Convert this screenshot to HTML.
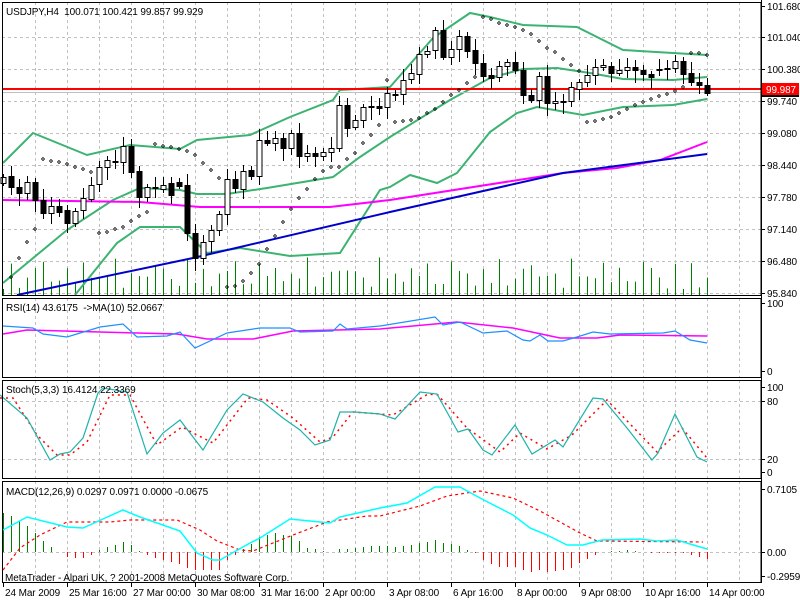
<!DOCTYPE html>
<html><head><meta charset="utf-8">
<style>
html,body{margin:0;padding:0;background:#fff;}
svg{display:block;font-family:"Liberation Sans",sans-serif;font-size:10px;letter-spacing:-0.1px;}
</style></head>
<body>
<svg id="c" width="800" height="600" xmlns="http://www.w3.org/2000/svg"></svg>
<script>
var S=document.getElementById('c');var h='';
function pl(pts,col,w,dash){h+='<polyline fill="none" stroke="'+col+'" stroke-width="'+w+'"'+(dash?' stroke-dasharray="'+dash+'"':'')+' points="'+pts.map(function(p){return p[0]+','+p[1]}).join(' ')+'"/>';}
function ln(x1,y1,x2,y2,col,w,dash){h+='<line x1="'+x1+'" y1="'+y1+'" x2="'+x2+'" y2="'+y2+'" stroke="'+col+'" stroke-width="'+(w||1)+'"'+(dash?' stroke-dasharray="'+dash+'"':'')+'/>';}
function tx(x,y,t,col,anchor){h+='<text x="'+x+'" y="'+y+'" fill="'+(col||'#000')+'"'+(anchor?' text-anchor="'+anchor+'"':'')+'>'+t+'</text>';}
var panels=[[2,295],[298,377],[380,478],[481,582]];
panels.forEach(function(p){for(var x=35;x<761;x+=32){ln(x+0.5,p[0],x+0.5,p[1],'#c0c0c0',1,'3,3');}});
for(var y=37;y<295;y+=32)ln(2,y+0.5,761,y+0.5,'#c0c0c0',1,'3,3');
ln(2,401.5,761,401.5,'#c0c0c0',1,'3,3');ln(2,459.5,761,459.5,'#c0c0c0',1,'3,3');
ln(2,552.5,761,552.5,'#c0c0c0',1,'3,3');
for(var k=0;k<89;k++){var x=3.5+8*k;var v=6+Math.abs(Math.sin(k*1.7)*22+Math.sin(k*0.37)*10);ln(x,295,x,295-v,'#008000',1);}
pl([[3,163],[33,133],[87,155],[130,145],[180,149],[197,140],[250,135],[290,117],[333,100],[340,90],[390,87],[433,38],[470,13],[490,17],[523,25],[577,27],[623,50],[673,53],[707,55]],'#3cb371',2);
pl([[3,283],[67,230],[113,200],[140,188],[180,190],[197,194],[227,194],[267,188],[333,177],[360,157],[390,137],[450,100],[490,78],[523,69],[557,68],[590,73],[623,79],[673,80],[707,77]],'#3cb371',2);
pl([[75,295],[117,243],[140,227],[180,227],[207,253],[240,248],[290,256],[340,253],[380,190],[390,187],[410,175],[437,183],[457,173],[490,132],[517,113],[537,107],[583,115],[623,107],[673,105],[707,99]],'#3cb371',2);
pl([[3,200],[140,202],[200,207],[330,207],[390,200],[563,173],[617,168],[660,160],[707,142]],'#ff00ff',2);
pl([[17,295],[193,258],[390,212],[563,173],[707,154]],'#0000cd',2);
ln(2,92.5,761,92.5,'#c0c0c0',1);
ln(2,89,761,89,'#ff0000',2);
var C=[[177,183,1],[176,187,0],[187,193,0],[182,193,1],[182,200,0],[200,213,0],[206,213,1],[206,212,0],[210,223,0],[211,223,1],[198,210,1],[185,199,1],[167,184,1],[160,167,1],[161,162,0],[146,162,1],[146,172,0],[171,197,0],[187,197,1],[187,188,0],[185,189,1],[183,195,0],[182,186,0],[185,233,0],[233,258,0],[242,258,1],[230,241,1],[214,230,1],[179,214,1],[179,188,0],[171,189,1],[170,176,0],[140,176,1],[140,143,0],[138,143,1],[138,148,0],[133,148,1],[133,156,0],[153,156,1],[153,156,0],[152,156,1],[148,152,1],[105,148,1],[105,128,0],[120,127,1],[107,120,1],[106,107,0],[106,108,0],[93,107,1],[94,95,0],
[80,94,1],[73,79,1],[54,74,1],[51,54,1],[30,50,1],[30,57,0],[49,57,1],[36,49,1],[36,51,0],[50,63,0],[63,76,0],[75,78,0],[66,77,1],[62,66,1],[62,70,0],[70,95,0],[95,100,0],[76,100,1],[76,103,0],[101,103,1],[101,102,0],[87,101,1],[82,89,1],[75,82,1],[67,75,1],[65,67,1],[66,73,0],[70,73,1],[67,70,1],[67,70,0],[70,74,0],[74,77,0],[69,70,0],[68,69,0],[61,68,1],[61,74,0],[73,82,0],[82,85,0],[85,93,0]];
C.forEach(function(c,k){var x=3.5+8*k;var w1=3+(k*7%9),w2=3+(k*5%11);ln(x,c[0]-w1,x,c[1]+w2,'#000',1);
var hh=Math.max(c[1]-c[0],1);h+='<rect x="'+(x-2.5)+'" y="'+c[0]+'.5" width="5" height="'+hh+'" fill="'+(c[2]?'#fff':'#000')+'" stroke="#000" stroke-width="1"/>';});
var D=[[11,277],[19,258],[27,242],[35,229],[43,159],[51,161],[59,162],[67,164],[75,167],[83,169],[91,172],[99,233],[107,232],[115,229],[123,227],[131,221],[139,216],[147,212],[155,144],[163,146],[171,147],[179,149],[187,151],[195,155],[203,163],[211,170],[219,178],[227,287],[235,286],[243,281],[251,273],[259,264],[267,249],[275,236],[283,222],[291,209],[299,198],[307,189],[315,179],[323,171],[331,167],[339,167],[347,159],[355,153],[363,143],[371,135],[379,125],[387,80],[395,122],[403,121],[411,120],[419,118],[427,113],[435,109],[443,102],[451,95],[459,90],[467,83],[475,77],[483,17],[491,19],[499,23],[507,25],[515,27],[523,30],[531,34],[539,41],[547,48],[555,52],[563,59],[571,65],[579,71],[587,122],[595,121],[603,119],[611,117],[619,113],[627,109],[635,105],[643,102],[651,99],[659,96],[667,94],[675,91],[683,87],[691,53],[699,53],[707,55]];
D.forEach(function(d){h+='<path d="M'+d[0]+' '+(d[1]-1.5)+'l1.5 1.5l-1.5 1.5l-1.5 -1.5z" fill="none" stroke="#000" stroke-width="0.8"/>';});
pl([[3,334],[27,330],[100,332],[177,334],[207,339],[253,339],[293,331],[380,329],[457,322],[513,328],[560,338],[597,338],[620,335],[707,336]],'#ff00ff',1.5);
pl([[3,326],[33,328],[43,334],[67,337],[100,327],[123,324],[137,337],[167,336],[180,332],[195,348],[227,333],[260,328],[290,328],[300,332],[333,331],[340,324],[347,329],[380,326],[435,317],[443,325],[460,322],[483,333],[507,331],[523,340],[530,341],[540,335],[548,341],[563,341],[577,337],[593,332],[610,334],[663,333],[675,331],[690,340],[707,343]],'#1e90ff',1.2);
pl([[0,398],[13,398],[37,435],[57,455],[70,455],[87,442],[110,395],[130,395],[157,445],[182,427],[197,435],[213,443],[248,398],[267,400],[293,418],[320,442],[333,437],[353,412],[393,415],[428,394],[438,395],[467,428],[500,452],[520,433],[547,449],[572,435],[607,400],[657,452],[682,428],[707,458]],'#ff0000',1.5,'2,4');
pl([[0,395],[27,418],[50,460],[60,454],[70,452],[83,438],[98,393],[103,388],[127,392],[147,454],[163,433],[180,420],[203,450],[227,410],[243,394],[263,402],[283,418],[300,430],[315,445],[330,440],[340,412],[355,412],[380,414],[395,419],[420,392],[437,394],[458,432],[468,429],[483,450],[492,455],[515,425],[532,454],[555,440],[563,447],[593,398],[603,399],[627,428],[652,460],[658,453],[675,414],[697,457],[707,462]],'#20b2aa',1.2);
var H=[39,36,31,26,19,11,5,0,-5,-6,-6,-3,2,5,7,10,7,1,-3,-6,-8,-10,-12,-16,-18,-18,-18,-18,-8,-3,3,8,15,17,19,17,16,11,4,3,1,0,3,3,4,5,6,6,6,5,6,7,9,10,12,9,8,6,2,-1,-8,-12,-15,-15,-15,-18,-20,-18,-20,-19,-18,-16,-11,-7,-3,0,1,1,2,1,0,-1,-1,-1,-1,-1,-3,-5,-7];
H.forEach(function(v,k){if(v==0)return;var x=3.5+8*k;ln(x,552,x,552-v,v>0?'#008000':'#ff0000',1);});
pl([[3,570],[20,548],[40,535],[67,522],[110,522],[130,520],[177,520],[200,530],[217,541],[240,550],[253,551],[293,535],[327,522],[367,516],[380,516],[420,506],[447,496],[480,491],[513,498],[540,511],[580,533],[597,541],[703,542]],'#ff0000',1.2,'3,3');
pl([[3,530],[27,517],[67,527],[83,528],[123,510],[140,517],[180,531],[197,553],[213,560],[220,560],[250,543],[260,538],[290,519],[320,522],[330,523],[340,517],[380,508],[407,503],[435,487],[460,487],[480,498],[513,515],[530,528],[547,535],[567,545],[583,545],[602,540],[640,539],[657,541],[677,540],[690,544],[707,549]],'#00ffff',1.5);
panels.forEach(function(p){h+='<rect x="2.5" y="'+(p[0]+0.5)+'" width="758.5" height="'+(p[1]-p[0])+'" fill="none" stroke="#000" stroke-width="1"/>';});
ln(761.5,0,761.5,583,'#000',1);
[[101.680,6],[101.040,37],[100.380,69],[99.740,101],[99.080,133],[98.440,165],[97.780,197],[97.140,229],[96.480,261],[95.840,293]].forEach(function(a){ln(761,a[1]+0.5,765,a[1]+0.5,'#000');tx(767,a[1]+4,a[0].toFixed(3));});
h+='<rect x="762" y="83" width="37" height="12" fill="#ff0000"/><rect x="762" y="95" width="37" height="2" fill="#000"/>';
tx(766,93,'99.987','#fff');
[['100',303],['0',371],['100',387],['80',401],['20',459],['0',472],['0.7105',489],['0.00',552],['-0.2959',576]].forEach(function(a){ln(761,a[1]+0.5,765,a[1]+0.5,'#000');tx(767,a[1]+4,a[0]);});
tx(6,15,'USDJPY,H4&#160; 100.071 100.421 99.857 99.929');
tx(6,311,'RSI(14) 43.6175&#160; -&gt;MA(10) 52.0667');
tx(6,393,'Stoch(5,3,3) 16.4124 22.3369');
tx(6,495,'MACD(12,26,9) 0.0297 0.0971 0.0000 -0.0675');
tx(5,581,'MetaTrader - Alpari UK, ? 2001-2008 MetaQuotes Software Corp.');
[['24 Mar 2009',3],['25 Mar 16:00',67],['27 Mar 00:00',131],['30 Mar 08:00',195],['31 Mar 16:00',259],['2 Apr 00:00',323],['3 Apr 08:00',387],['6 Apr 16:00',451],['8 Apr 00:00',515],['9 Apr 08:00',579],['10 Apr 16:00',643],['14 Apr 00:00',707]].forEach(function(a){ln(a[1]+0.5,582,a[1]+0.5,587,'#000');tx(a[1]+2,596,a[0]);});
S.innerHTML=h;
</script>
</body></html>
